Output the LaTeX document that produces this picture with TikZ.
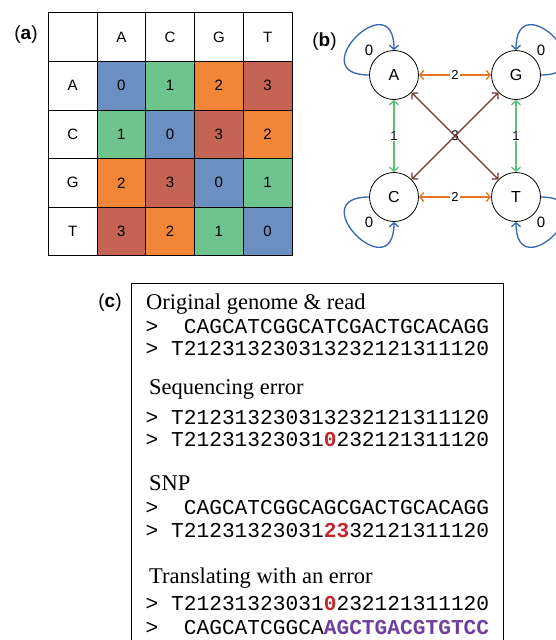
\documentclass[tikz,border=0pt]{standalone}
\usepackage{fontspec}
\setmainfont{Liberation Serif}
\setsansfont{Liberation Sans}
\setmonofont{Liberation Mono}
\usetikzlibrary{arrows.meta}
\definecolor{val0}{RGB}{107,143,192}
\definecolor{val1}{RGB}{109,196,141}
\definecolor{val2}{RGB}{242,134,56}
\definecolor{val3}{RGB}{197,100,85}
\definecolor{edgeorange}{RGB}{232,118,42}
\definecolor{edgegreen}{RGB}{93,191,120}
\definecolor{edgebrown}{RGB}{123,53,51}
\definecolor{loopblue}{RGB}{51,102,179}
\definecolor{errred}{RGB}{192,40,45}
\definecolor{transpurple}{RGB}{111,63,160}
\begin{document}
\begin{tikzpicture}[x=1pt,y=-1pt,
  cell/.style={draw=black, line width=0.8pt, minimum width=48.74pt, minimum height=48.6pt,
    inner sep=0pt, font=\sffamily\fontsize{15}{17}\selectfont},
  panellabel/.style={inner sep=0pt, font=\sffamily\fontsize{19}{21}\selectfont},
  state/.style={circle, draw=black, line width=0.8pt, minimum size=49pt, inner sep=0pt,
    fill=white, font=\sffamily\fontsize{16}{18}\selectfont},
  tip/.style={{Straight Barb[length=4pt,width=9pt]}-{Straight Barb[length=4pt,width=9pt]}},
  conn/.style={line width=1.3pt, tip},
  elabel/.style={fill=white, text=black, inner sep=1pt, font=\sffamily\fontsize{13}{13}\selectfont},
  selfloop/.style={draw=loopblue, line width=1.3pt, -{Straight Barb[length=4pt,width=9pt]}},
  looplabel/.style={inner sep=0pt, font=\sffamily\fontsize{15}{15}\selectfont},
  heading/.style={anchor=base west, inner sep=0pt, font=\rmfamily\fontsize{22.5}{24}\selectfont},
  seqline/.style={anchor=base west, inner sep=0pt, font=\ttfamily\fontsize{21.2}{22}\selectfont}
]
\useasboundingbox (0,0) rectangle (555,640);

% ---------- panel (a) ----------
\node[panellabel] (la) at (26,35) {(\textbf{a})};
\node[cell] (corner) at (72.67,37) {};
\foreach \lab [count=\i] in {A,C,G,T} {
  \node[cell] (h\i) at ({48.3+48.74*(\i+0.5)}, 37) {\lab};
  \node[cell] (r\i) at (72.67, {12.7+48.6*(\i+0.5)}) {\lab};
}
\foreach \r/\vals in {1/{0,1,2,3},2/{1,0,3,2},3/{2,3,0,1},4/{3,2,1,0}} {
  \foreach \v [count=\c] in \vals {
    \node[cell, fill=val\v] (m\r\c) at ({48.3+48.74*(\c+0.5)}, {12.7+48.6*(\r+0.5)}) {\v};
  }
}

% ---------- panel (b) ----------
\node[panellabel] (lb) at (324.5,41.5) {(\textbf{b})};
\node[state] (A) at (394,75) {A};
\node[state] (G) at (516,75) {G};
\node[state] (C) at (394,197) {C};
\node[state] (T) at (516,197) {T};

\draw[conn, edgeorange] (A) -- node[elabel] {2} (G);
\draw[conn, edgeorange] (C) -- node[elabel] {2} (T);
\draw[conn, edgegreen] (A) -- node[elabel] {1} (C);
\draw[conn, edgegreen] (G) -- node[elabel] {1} (T);
\node[inner sep=0pt, font=\sffamily\fontsize{14}{14}\selectfont] (three) at (455,136) {3};
\draw[conn, edgebrown] (A) -- (T);
\draw[conn, edgebrown] (G) -- (C);

\draw[selfloop] (A.180) .. controls +(-68,0) and +(0,-68) .. (A.90);
\draw[selfloop] (G.0) .. controls +(68,0) and +(0,-68) .. (G.90);
\draw[selfloop] (C.180) .. controls +(-68,0) and +(0,68) .. (C.270);
\draw[selfloop] (T.0) .. controls +(68,0) and +(0,68) .. (T.270);
\node[looplabel] (l0a) at (369,50) {0};
\node[looplabel] (l0g) at (541,50) {0};
\node[looplabel] (l0c) at (369,222) {0};
\node[looplabel] (l0t) at (541,222) {0};

% ---------- panel (c) ----------
\node[panellabel] (lc) at (110,303) {(\textbf{c})};
\coordinate (bl) at (131,645);
\coordinate (tl) at (131,283);
\coordinate (tr) at (503,283);
\coordinate (br) at (503,645);
\draw[line width=0.8pt] (bl) -- (tl) -- (tr) -- (br);

\node[heading] (h1) at (146,309) {Original genome \& read};
\node[seqline] (s1) at (145.5,333) {>\phantom{xx}CAGCATCGGCATCGACTGCACAGG};
\node[seqline] (s2) at (145.5,355) {>\phantom{x}T212313230313232121311120};

\node[heading] (h2) at (149,394) {Sequencing error};
\node[seqline] (s3) at (145.5,424) {>\phantom{x}T212313230313232121311120};
\node[seqline] (s4) at (145.5,446) {>\phantom{x}T21231323031\textcolor{errred}{\bfseries 0}232121311120};

\node[heading] (h3) at (149,490) {SNP};
\node[seqline] (s5) at (145.5,514) {>\phantom{xx}CAGCATCGGCAGCGACTGCACAGG};
\node[seqline] (s6) at (145.5,537) {>\phantom{x}T21231323031\textcolor{errred}{\bfseries 23}32121311120};

\node[heading] (h4) at (149,583) {Translating with an error};
\node[seqline] (s7) at (145.5,610) {>\phantom{x}T21231323031\textcolor{errred}{\bfseries 0}232121311120};
\node[seqline] (s8) at (145.5,634) {>\phantom{xx}CAGCATCGGCA\textcolor{transpurple}{\bfseries AGCTGACGTGTCC}};
\end{tikzpicture}
\end{document}
